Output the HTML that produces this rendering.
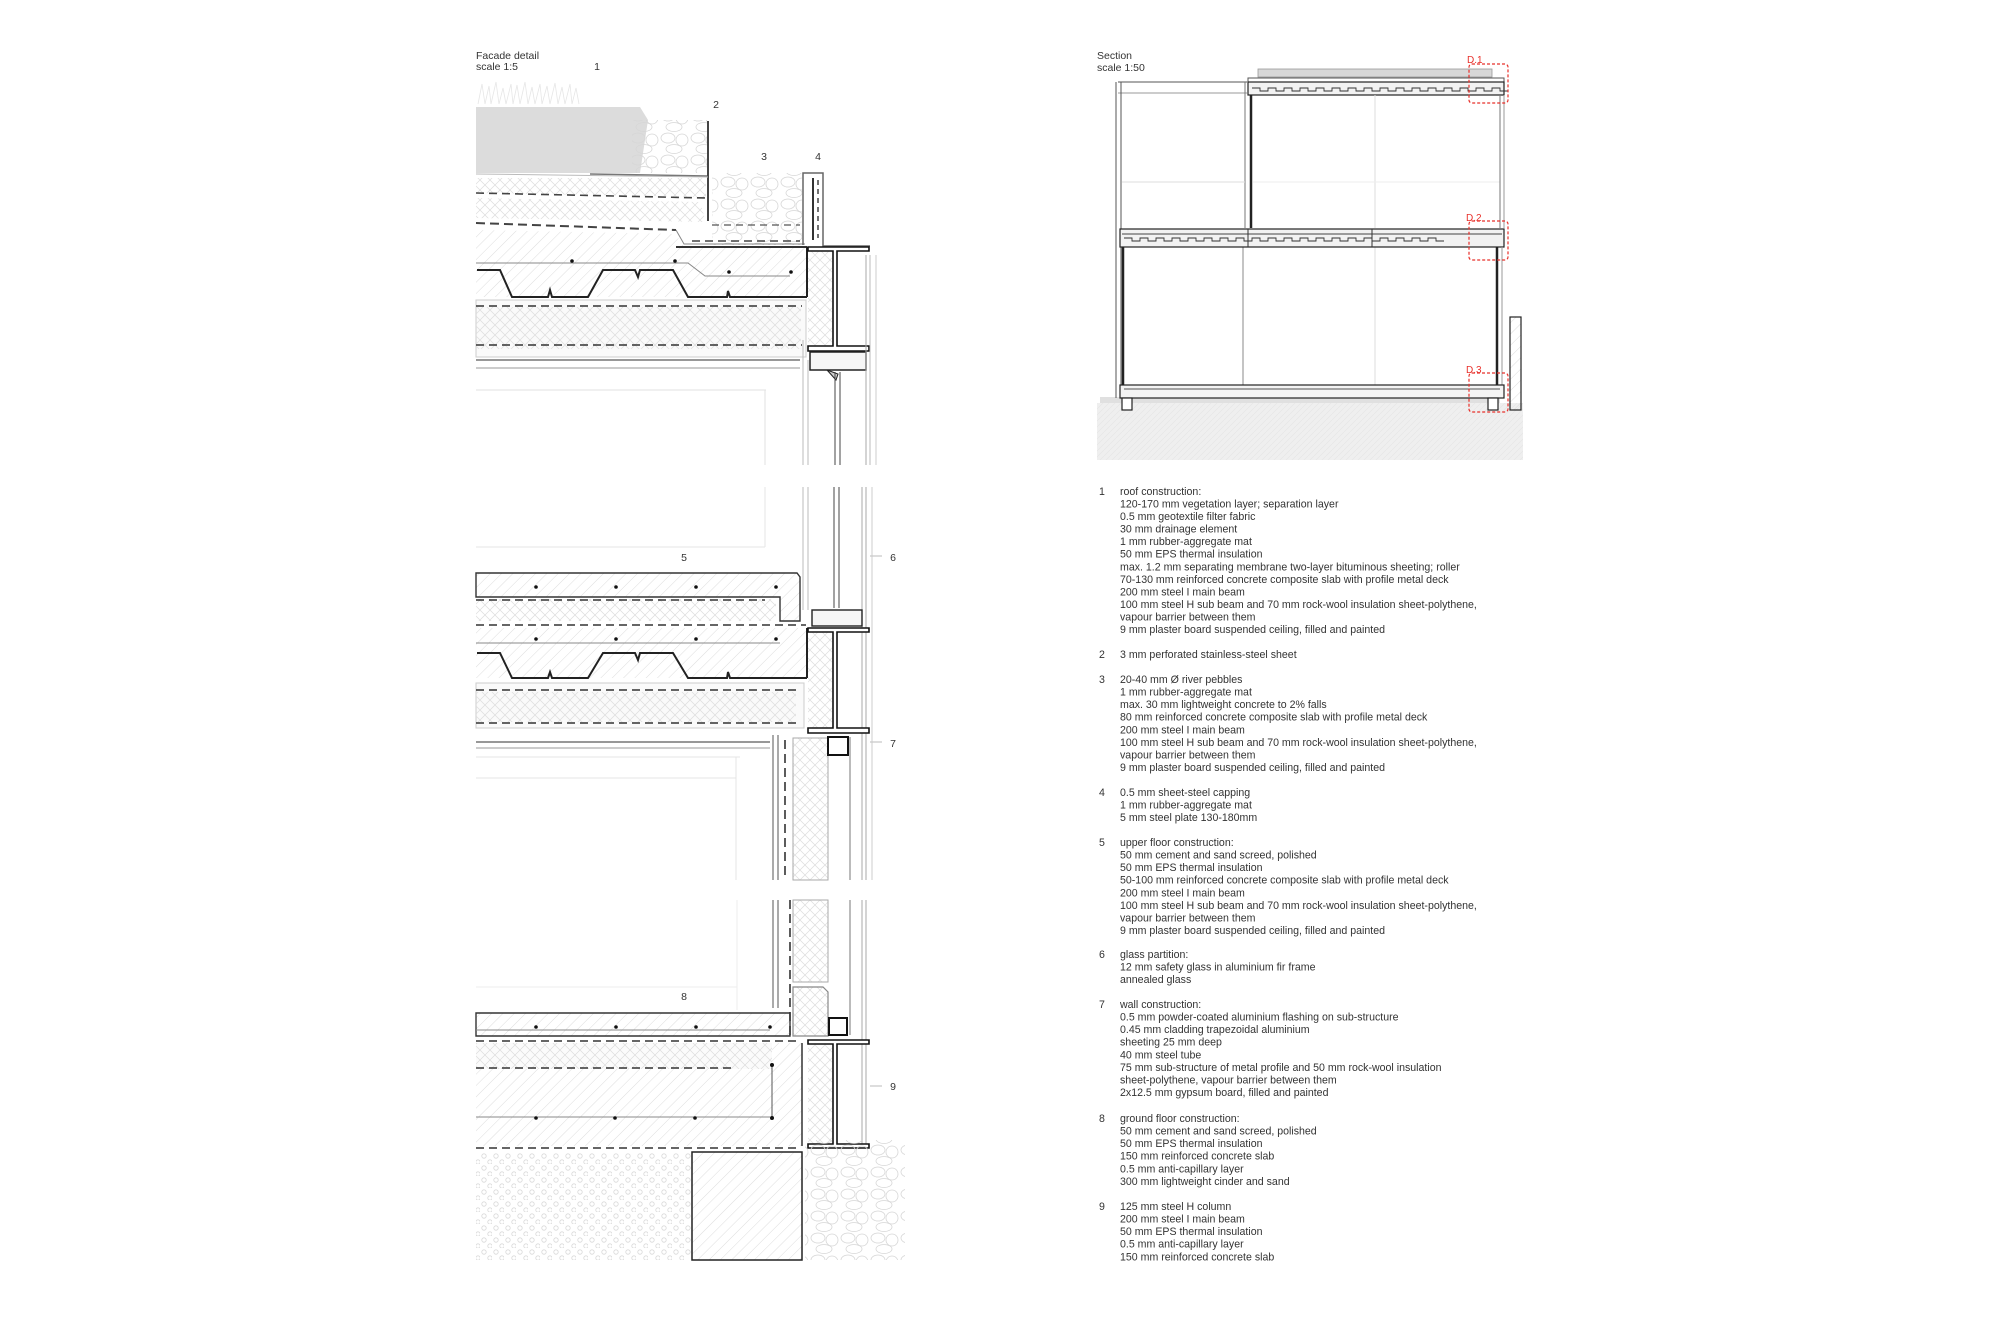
<!DOCTYPE html>
<html><head><meta charset="utf-8"><style>
html,body{margin:0;padding:0;background:#fff;}
svg{display:block;}
text{font-family:"Liberation Sans",Arial,sans-serif;fill:#333;}
.d line.ds{stroke-width:1.6}
.red{fill:#e8302a}
</style></head><body>
<svg width="2000" height="1334" viewBox="0 0 2000 1334" xmlns="http://www.w3.org/2000/svg">
<defs>
<pattern id="hc" width="8" height="8" patternUnits="userSpaceOnUse" patternTransform="rotate(45)"><line x1="0" y1="0" x2="0" y2="8" stroke="#d4d4d4" stroke-width="0.8"/></pattern>
<pattern id="hx" width="10" height="10" patternUnits="userSpaceOnUse"><path d="M0 0L10 10M10 0L0 10" stroke="#dcdcdc" stroke-width="0.7"/></pattern>
<pattern id="dots" width="12" height="12" patternUnits="userSpaceOnUse"><circle cx="4" cy="4" r="2.2" fill="none" stroke="#d8d8d8" stroke-width="0.8"/><circle cx="10" cy="10" r="2.2" fill="none" stroke="#d8d8d8" stroke-width="0.8"/></pattern>
<pattern id="peb" width="30" height="22" patternUnits="userSpaceOnUse"><ellipse cx="8" cy="6" rx="7" ry="5" fill="none" stroke="#d6d6d6" stroke-width="0.8"/><ellipse cx="22" cy="8" rx="6" ry="6" fill="none" stroke="#d6d6d6" stroke-width="0.8"/><ellipse cx="14" cy="17" rx="8" ry="4.5" fill="none" stroke="#d6d6d6" stroke-width="0.8"/></pattern>
<pattern id="gr" width="6" height="6" patternUnits="userSpaceOnUse"><rect width="6" height="6" fill="#efefef"/><path d="M0 6L6 0" stroke="#e4e4e4" stroke-width="0.6"/></pattern>
</defs>

<!-- ============ DETAIL 1 ============ -->
<text x="476" y="59" font-size="10.5">Facade detail</text>
<text x="476" y="70" font-size="10.5">scale 1:5</text>
<text x="597" y="70" font-size="10.5" text-anchor="middle">1</text>
<text x="716" y="108" font-size="10.5" text-anchor="middle">2</text>
<text x="764" y="160" font-size="10.5" text-anchor="middle">3</text>
<text x="818" y="160" font-size="10.5" text-anchor="middle">4</text>
<path d="M478 104l4-20 3 20 4-18 2 18 5-22 3 22 4-16 3 16 5-20 2 20 4-19 3 19 5-22 3 22 4-17 3 17 5-20 2 20 5-18 3 18 5-21 3 21 4-17 3 17 5-20 2 20 4-16 3 16" fill="none" stroke="#e6e6e6" stroke-width="0.8"/>
<polygon points="476,107 640,107 648,120 640,173 476,173" fill="#dcdcdc"/>
<rect x="632" y="120" width="76" height="53" fill="url(#peb)"/>
<rect x="712" y="173" width="90" height="72" fill="url(#peb)"/>
<line x1="590" y1="174" x2="708" y2="176" stroke="#777" stroke-width="1.5"/>
<line x1="708" y1="121" x2="708" y2="221" stroke="#444" stroke-width="2"/>
<line x1="476" y1="174" x2="708" y2="177" stroke="#bbb"/>
<polygon points="476,178 706,178 706,197 476,193" fill="url(#hx)"/>
<line x1="476" y1="193" x2="706" y2="198" stroke="#444" stroke-width="1.6" stroke-dasharray="8,5"/>
<polygon points="476,198 700,202 706,222 476,218" fill="url(#hx)"/>
<line x1="476" y1="223" x2="676" y2="230" stroke="#444" stroke-width="2" stroke-dasharray="9,5"/>
<path d="M676 230 L684 244 L805 244" fill="none" stroke="#888"/>
<line x1="692" y1="241" x2="800" y2="241" stroke="#444" stroke-width="1.6" stroke-dasharray="8,5"/>
<line x1="712" y1="225" x2="800" y2="225" stroke="#555" stroke-width="1.3" stroke-dasharray="7,5"/>
<path d="M803 245 L803 173 L823 173 L823 246 L870 246" fill="none" stroke="#666" stroke-width="1.5"/>
<line x1="813" y1="178" x2="813" y2="240" stroke="#333" stroke-width="2"/>
<line x1="818" y1="180" x2="818" y2="238" stroke="#444" stroke-width="1.5" stroke-dasharray="5,4"/>
<polygon points="476,230 676,234 684,247 807,247 807,297 476,297" fill="url(#hc)"/>
<line x1="676" y1="247" x2="807" y2="247" stroke="#333" stroke-width="2"/>
<line x1="807" y1="247" x2="807" y2="297" stroke="#222" stroke-width="2"/>
<path d="M476 263 L688 263 L705 276 L790 276" fill="none" stroke="#888"/>
<circle cx="572" cy="261" r="1.8" fill="#111"/><circle cx="675" cy="261" r="1.8" fill="#111"/><circle cx="729" cy="272" r="1.8" fill="#111"/><circle cx="791" cy="272" r="1.8" fill="#111"/>
<path d="M477 270 L500 270 L512 297 L548 297 L550 290 L552 297 L588 297 L603 270 L635 270 L638 277 L640 270 L673 270 L688 297 L727 297 L728 291 L730 297 L807 297" fill="none" stroke="#222" stroke-width="2"/>
<rect x="476" y="300" width="330" height="57" fill="#fafafa" stroke="#ccc"/>
<rect x="476" y="307" width="325" height="42" fill="url(#hx)"/>
<line x1="476" y1="306" x2="802" y2="306" stroke="#333" stroke-width="1.6" stroke-dasharray="8,5"/>
<line x1="476" y1="345" x2="802" y2="345" stroke="#333" stroke-width="1.6" stroke-dasharray="8,5"/>
<line x1="476" y1="360" x2="800" y2="360" stroke="#777" stroke-width="1.5"/>
<line x1="476" y1="368" x2="800" y2="368" stroke="#999"/>
<line x1="476" y1="390" x2="766" y2="390" stroke="#e2e2e2"/>
<line x1="765" y1="390" x2="765" y2="465" stroke="#e2e2e2"/>
<rect x="808" y="250" width="24" height="100" fill="url(#hx)"/>
<path d="M808 247 H869 V251 H837 V346 H869 V351 H808 V346 H833 V251 H808 Z" fill="#fff" stroke="#111" stroke-width="1.6"/>
<path d="M810 352 H866 V370 H810 Z" fill="#f6f6f6" stroke="#222" stroke-width="1.5"/>
<path d="M827 370 L838 374 L836 380 Z" fill="#ccc" stroke="#222"/>
<line x1="835" y1="372" x2="835" y2="465" stroke="#444"/><line x1="840" y1="372" x2="840" y2="465" stroke="#444"/>
<line x1="803" y1="340" x2="803" y2="465" stroke="#bbb"/><line x1="808" y1="360" x2="808" y2="465" stroke="#bbb"/>
<line x1="866" y1="255" x2="866" y2="465" stroke="#aaa"/><line x1="870" y1="255" x2="870" y2="465" stroke="#bbb"/><line x1="876" y1="255" x2="876" y2="465" stroke="#ccc"/>

<!-- ============ DETAIL 2 ============ -->
<text x="684" y="561" font-size="10.5" text-anchor="middle">5</text>
<text x="893" y="561" font-size="10.5" text-anchor="middle">6</text>
<text x="893" y="747" font-size="10.5" text-anchor="middle">7</text>
<line x1="870" y1="556" x2="882" y2="556" stroke="#bbb"/><line x1="870" y1="742" x2="882" y2="742" stroke="#bbb"/>
<line x1="476" y1="547" x2="765" y2="547" stroke="#e6e6e6"/>
<line x1="765" y1="487" x2="765" y2="547" stroke="#e6e6e6"/>
<line x1="803" y1="487" x2="803" y2="610" stroke="#bbb"/><line x1="808" y1="487" x2="808" y2="610" stroke="#bbb"/>
<line x1="834" y1="487" x2="834" y2="608" stroke="#444"/><line x1="839" y1="487" x2="839" y2="608" stroke="#444"/>
<line x1="862" y1="487" x2="862" y2="880" stroke="#aaa"/><line x1="866" y1="487" x2="866" y2="880" stroke="#aaa"/><line x1="872" y1="487" x2="872" y2="880" stroke="#ccc"/>
<path d="M476 573 H797 L800 577 V621 H780 V597 H476 Z" fill="url(#hc)" stroke="#333" stroke-width="1.4"/>
<rect x="476" y="599" width="300" height="22" fill="url(#hx)"/>
<line x1="476" y1="600" x2="765" y2="600" stroke="#333" stroke-width="1.6" stroke-dasharray="8,5"/>
<circle cx="536" cy="587" r="1.8" fill="#111"/><circle cx="616" cy="587" r="1.8" fill="#111"/><circle cx="696" cy="587" r="1.8" fill="#111"/><circle cx="776" cy="587" r="1.8" fill="#111"/>
<line x1="476" y1="625" x2="806" y2="625" stroke="#333" stroke-width="1.6" stroke-dasharray="8,5"/>
<rect x="812" y="610" width="50" height="16" fill="#f6f6f6" stroke="#222" stroke-width="1.4"/>
<rect x="476" y="628" width="331" height="50" fill="url(#hc)"/>
<line x1="807" y1="628" x2="807" y2="678" stroke="#222" stroke-width="2"/>
<line x1="476" y1="643" x2="780" y2="643" stroke="#888"/>
<circle cx="536" cy="639" r="1.8" fill="#111"/><circle cx="616" cy="639" r="1.8" fill="#111"/><circle cx="696" cy="639" r="1.8" fill="#111"/><circle cx="776" cy="639" r="1.8" fill="#111"/>
<path d="M477 653 L500 653 L512 678 L548 678 L550 672 L552 678 L588 678 L603 653 L635 653 L638 660 L640 653 L673 653 L688 678 L727 678 L728 672 L730 678 L807 678" fill="none" stroke="#222" stroke-width="2"/>
<rect x="476" y="683" width="328" height="45" fill="#fafafa" stroke="#ccc"/>
<rect x="476" y="692" width="320" height="30" fill="url(#hx)"/>
<line x1="476" y1="690" x2="800" y2="690" stroke="#333" stroke-width="1.6" stroke-dasharray="8,5"/>
<line x1="476" y1="723" x2="800" y2="723" stroke="#333" stroke-width="1.6" stroke-dasharray="8,5"/>
<line x1="476" y1="742" x2="770" y2="742" stroke="#777" stroke-width="1.5"/>
<line x1="476" y1="748" x2="770" y2="748" stroke="#999"/>
<line x1="476" y1="757" x2="740" y2="757" stroke="#e4e4e4"/>
<line x1="476" y1="778" x2="736" y2="778" stroke="#e4e4e4"/>
<line x1="736" y1="757" x2="736" y2="880" stroke="#e4e4e4"/>
<rect x="808" y="631" width="24" height="100" fill="url(#hx)"/>
<path d="M808 628 H869 V632 H837 V728 H869 V733 H808 V728 H833 V632 H808 Z" fill="#fff" stroke="#111" stroke-width="1.6"/>
<line x1="773" y1="735" x2="773" y2="880" stroke="#555"/><line x1="778" y1="735" x2="778" y2="880" stroke="#555"/>
<line x1="785" y1="740" x2="785" y2="880" stroke="#333" stroke-width="1.6" stroke-dasharray="9,5"/>
<rect x="793" y="738" width="35" height="142" fill="url(#hx)" stroke="#aaa"/>
<rect x="828" y="737" width="20" height="18" fill="#fff" stroke="#111" stroke-width="2"/>
<line x1="850" y1="737" x2="850" y2="880" stroke="#777"/>

<!-- ============ DETAIL 3 ============ -->
<text x="684" y="1000" font-size="10.5" text-anchor="middle">8</text>
<text x="893" y="1090" font-size="10.5" text-anchor="middle">9</text>
<line x1="870" y1="1086" x2="882" y2="1086" stroke="#bbb"/>
<line x1="476" y1="987" x2="737" y2="987" stroke="#eee"/>
<line x1="737" y1="900" x2="737" y2="1010" stroke="#eee"/>
<line x1="773" y1="900" x2="773" y2="1008" stroke="#555"/><line x1="778" y1="900" x2="778" y2="1008" stroke="#555"/>
<line x1="790" y1="900" x2="790" y2="1035" stroke="#333" stroke-width="1.6" stroke-dasharray="9,5"/>
<rect x="793" y="900" width="35" height="82" fill="url(#hx)" stroke="#aaa"/>
<path d="M793 987 H823 L828 992 V1036 H793 Z" fill="url(#hx)" stroke="#888" stroke-width="1.2"/>
<rect x="829" y="1018" width="18" height="17" fill="#fff" stroke="#111" stroke-width="2"/>
<line x1="850" y1="900" x2="850" y2="1035" stroke="#777"/>
<line x1="862" y1="900" x2="862" y2="1147" stroke="#aaa"/><line x1="866" y1="900" x2="866" y2="1147" stroke="#aaa"/>
<path d="M476 1013 H790 V1036 H476 Z" fill="url(#hc)" stroke="#333" stroke-width="1.4"/>
<line x1="476" y1="1030" x2="770" y2="1030" stroke="#888"/>
<circle cx="536" cy="1027" r="1.8" fill="#111"/><circle cx="616" cy="1027" r="1.8" fill="#111"/><circle cx="696" cy="1027" r="1.8" fill="#111"/><circle cx="770" cy="1027" r="1.8" fill="#111"/>
<line x1="476" y1="1041" x2="800" y2="1041" stroke="#333" stroke-width="1.6" stroke-dasharray="8,5"/>
<path d="M476 1043 H802 V1146 H476 Z" fill="url(#hc)"/>
<line x1="802" y1="1043" x2="802" y2="1146" stroke="#333" stroke-width="1.5"/>
<rect x="476" y="1043" width="296" height="26" fill="#fbfbfb"/>
<rect x="476" y="1043" width="296" height="26" fill="url(#hx)"/>
<line x1="476" y1="1068" x2="735" y2="1068" stroke="#333" stroke-width="1.6" stroke-dasharray="8,5"/>
<line x1="476" y1="1117" x2="770" y2="1117" stroke="#888"/>
<circle cx="536" cy="1118" r="1.8" fill="#111"/><circle cx="615" cy="1118" r="1.8" fill="#111"/><circle cx="695" cy="1118" r="1.8" fill="#111"/>
<line x1="772" y1="1065" x2="772" y2="1118" stroke="#555"/><circle cx="772" cy="1065" r="2" fill="#111"/><circle cx="772" cy="1118" r="2" fill="#111"/>
<line x1="476" y1="1148" x2="800" y2="1148" stroke="#333" stroke-width="1.6" stroke-dasharray="8,5"/>
<rect x="808" y="1044" width="24" height="100" fill="url(#hx)"/>
<path d="M808 1040 H869 V1044 H837 V1144 H869 V1148 H808 V1144 H833 V1044 H808 Z" fill="#fff" stroke="#111" stroke-width="1.6"/>
<rect x="476" y="1152" width="216" height="108" fill="url(#dots)"/>
<rect x="692" y="1152" width="110" height="108" fill="url(#hc)" stroke="#222" stroke-width="1.5"/>
<rect x="805" y="1140" width="100" height="120" fill="url(#peb)"/>

<!-- ============ SECTION ============ -->
<text x="1097" y="59" font-size="10.5">Section</text>
<text x="1097" y="71" font-size="10.5">scale 1:50</text>
<rect x="1097" y="403" width="426" height="57" fill="url(#gr)"/>
<rect x="1100" y="397" width="400" height="6" fill="#e0e0e0"/>
<line x1="1118" y1="82" x2="1247" y2="82" stroke="#555"/>
<line x1="1118" y1="93" x2="1247" y2="93" stroke="#999"/>
<line x1="1116" y1="82" x2="1116" y2="398" stroke="#555"/><line x1="1121" y1="82" x2="1121" y2="398" stroke="#555"/>
<line x1="1245" y1="82" x2="1245" y2="228" stroke="#777"/><line x1="1243" y1="247" x2="1243" y2="385" stroke="#888"/>
<line x1="1122" y1="182" x2="1245" y2="182" stroke="#ddd"/>
<rect x="1258" y="69" width="234" height="8" fill="#d8d8d8" stroke="#999" stroke-width="0.8"/>
<rect x="1248" y="78" width="256" height="4" fill="none" stroke="#555"/>
<rect x="1248" y="82" width="256" height="13" fill="#f2f2f2" stroke="#222" stroke-width="1.2"/>
<path d="M1252 88 h8 v3 h8 v-3 h8 v3 h8 v-3 h8 v3 h8 v-3 h8 v3 h8 v-3 h8 v3 h8 v-3 h8 v3 h8 v-3 h8 v3 h8 v-3 h8 v3 h8 v-3 h8 v3 h8 v-3 h8 v3 h8 v-3 h8 v3 h8 v-3 h8 v3 h8 v-3 h8 v3 h8 v-3 h8 v3 h8 v-3 h8 v3 h8 v-3 h8 v3 h8" fill="none" stroke="#333" stroke-width="0.9"/>
<line x1="1251" y1="95" x2="1251" y2="228" stroke="#222" stroke-width="2.5"/>
<line x1="1375" y1="95" x2="1375" y2="228" stroke="#ddd"/>
<line x1="1375" y1="247" x2="1375" y2="385" stroke="#ddd"/>
<line x1="1253" y1="182" x2="1500" y2="182" stroke="#eee"/>
<line x1="1500" y1="95" x2="1500" y2="228" stroke="#777"/><line x1="1504" y1="95" x2="1504" y2="228" stroke="#999"/>
<rect x="1120" y="229" width="384" height="18" fill="#f2f2f2" stroke="#222" stroke-width="1.2"/>
<line x1="1122" y1="234" x2="1502" y2="234" stroke="#444"/>
<path d="M1124 238 h8 v3 h8 v-3 h8 v3 h8 v-3 h8 v3 h8 v-3 h8 v3 h8 v-3 h8 v3 h8 v-3 h8 v3 h8 v-3 h8 v3 h8 v-3 h8 v3 h8 v-3 h8 v3 h8 v-3 h8 v3 h8 v-3 h8 v3 h8 v-3 h8 v3 h8 v-3 h8 v3 h8 v-3 h8 v3 h8 v-3 h8 v3 h8 v-3 h8 v3 h8 v-3 h8 v3 h8 v-3 h8 v3 h8 v-3 h8 v3 h8 v-3 h8 v3 h8" fill="none" stroke="#333" stroke-width="0.9"/>
<line x1="1248" y1="229" x2="1248" y2="247" stroke="#333"/><line x1="1372" y1="229" x2="1372" y2="247" stroke="#333"/>
<line x1="1123" y1="247" x2="1123" y2="385" stroke="#222" stroke-width="2.5"/>
<line x1="1497" y1="247" x2="1497" y2="385" stroke="#222" stroke-width="2.5"/>
<line x1="1502" y1="247" x2="1502" y2="398" stroke="#999"/>
<rect x="1120" y="385" width="384" height="13" fill="#f4f4f4" stroke="#222" stroke-width="1.2"/>
<line x1="1124" y1="389" x2="1500" y2="389" stroke="#555"/>
<rect x="1122" y="398" width="10" height="12" fill="#fff" stroke="#222" stroke-width="1.2"/>
<rect x="1488" y="398" width="10" height="12" fill="#fff" stroke="#222" stroke-width="1.2"/>
<rect x="1510" y="317" width="11" height="93" fill="url(#hc)" stroke="#222" stroke-width="1.2"/>
<g stroke="#e8302a" stroke-width="1.2" stroke-dasharray="3,2" fill="none">
<rect x="1469" y="64" width="39" height="39" rx="3"/>
<rect x="1469" y="221" width="39" height="39" rx="3"/>
<rect x="1469" y="373" width="39" height="39" rx="3"/>
</g>
<text x="1467" y="63" font-size="10" class="red">D.1</text>
<text x="1466" y="221" font-size="10" class="red">D.2</text>
<text x="1466" y="373" font-size="10" class="red">D.3</text>

<!-- ============ NOTES ============ -->
<g font-size="10.6">
<text x="1099" y="495">1</text><text x="1099" y="658">2</text><text x="1099" y="683">3</text><text x="1099" y="796">4</text><text x="1099" y="846">5</text><text x="1099" y="958">6</text><text x="1099" y="1008">7</text><text x="1099" y="1122">8</text><text x="1099" y="1210">9</text>
</g>
<g font-size="10.6">
<text x="1120" y="495">roof construction:</text>
<text x="1120" y="507.5">120-170 mm vegetation layer; separation layer</text>
<text x="1120" y="520">0.5 mm geotextile filter fabric</text>
<text x="1120" y="532.6">30 mm drainage element</text>
<text x="1120" y="545.2">1 mm rubber-aggregate mat</text>
<text x="1120" y="557.7">50 mm EPS thermal insulation</text>
<text x="1120" y="570.3">max. 1.2 mm separating membrane two-layer bituminous sheeting; roller</text>
<text x="1120" y="582.8">70-130 mm reinforced concrete composite slab with profile metal deck</text>
<text x="1120" y="595.4">200 mm steel I main beam</text>
<text x="1120" y="608">100 mm steel H sub beam and 70 mm rock-wool insulation sheet-polythene,</text>
<text x="1120" y="620.5">vapour barrier between them</text>
<text x="1120" y="633">9 mm plaster board suspended ceiling, filled and painted</text>
<text x="1120" y="658">3 mm perforated stainless-steel sheet</text>
<text x="1120" y="683">20-40 mm Ø river pebbles</text>
<text x="1120" y="695.6">1 mm rubber-aggregate mat</text>
<text x="1120" y="708.2">max. 30 mm lightweight concrete to 2% falls</text>
<text x="1120" y="720.7">80 mm reinforced concrete composite slab with profile metal deck</text>
<text x="1120" y="733.3">200 mm steel I main beam</text>
<text x="1120" y="745.8">100 mm steel H sub beam and 70 mm rock-wool insulation sheet-polythene,</text>
<text x="1120" y="758.4">vapour barrier between them</text>
<text x="1120" y="771">9 mm plaster board suspended ceiling, filled and painted</text>
<text x="1120" y="796">0.5 mm sheet-steel capping</text>
<text x="1120" y="808.6">1 mm rubber-aggregate mat</text>
<text x="1120" y="821.2">5 mm steel plate 130-180mm</text>
<text x="1120" y="846">upper floor construction:</text>
<text x="1120" y="858.6">50 mm cement and sand screed, polished</text>
<text x="1120" y="871.2">50 mm EPS thermal insulation</text>
<text x="1120" y="883.7">50-100 mm reinforced concrete composite slab with profile metal deck</text>
<text x="1120" y="896.3">200 mm steel I main beam</text>
<text x="1120" y="908.8">100 mm steel H sub beam and 70 mm rock-wool insulation sheet-polythene,</text>
<text x="1120" y="921.4">vapour barrier between them</text>
<text x="1120" y="934">9 mm plaster board suspended ceiling, filled and painted</text>
<text x="1120" y="958">glass partition:</text>
<text x="1120" y="970.6">12 mm safety glass in aluminium fir frame</text>
<text x="1120" y="983.2">annealed glass</text>
<text x="1120" y="1008">wall construction:</text>
<text x="1120" y="1020.6">0.5 mm powder-coated aluminium flashing on sub-structure</text>
<text x="1120" y="1033.2">0.45 mm cladding trapezoidal aluminium</text>
<text x="1120" y="1045.7">sheeting 25 mm deep</text>
<text x="1120" y="1058.3">40 mm steel tube</text>
<text x="1120" y="1070.8">75 mm sub-structure of metal profile and 50 mm rock-wool insulation</text>
<text x="1120" y="1083.4">sheet-polythene, vapour barrier between them</text>
<text x="1120" y="1096">2x12.5 mm gypsum board, filled and painted</text>
<text x="1120" y="1122">ground floor construction:</text>
<text x="1120" y="1134.6">50 mm cement and sand screed, polished</text>
<text x="1120" y="1147.2">50 mm EPS thermal insulation</text>
<text x="1120" y="1159.7">150 mm reinforced concrete slab</text>
<text x="1120" y="1172.3">0.5 mm anti-capillary layer</text>
<text x="1120" y="1184.8">300 mm lightweight cinder and sand</text>
<text x="1120" y="1210">125 mm steel H column</text>
<text x="1120" y="1222.6">200 mm steel I main beam</text>
<text x="1120" y="1235.2">50 mm EPS thermal insulation</text>
<text x="1120" y="1247.7">0.5 mm anti-capillary layer</text>
<text x="1120" y="1260.3">150 mm reinforced concrete slab</text>
</g>
</svg>
</body></html>
